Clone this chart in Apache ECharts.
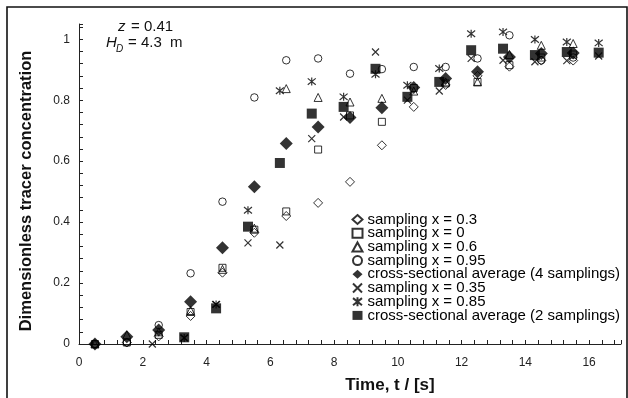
<!DOCTYPE html>
<html><head><meta charset="utf-8">
<script src="https://cdn.jsdelivr.net/npm/echarts@6/dist/echarts.min.js"></script>
<style>html,body{margin:0;padding:0;background:#fff}#c{width:628px;height:398px}</style>
</head><body><div id="c"></div>
<script>
// time points (s)
const T4 = [0.5, 1.5, 2.5, 3.5, 4.5, 5.5, 6.5, 7.5, 8.5, 9.5, 10.5, 11.5, 12.5, 13.5, 14.5, 15.5];
const T2 = [2.3, 3.3, 4.3, 5.3, 6.3, 7.3, 8.3, 9.3, 10.3, 11.3, 12.3, 13.3, 14.3, 15.3, 16.3];
// 4-sampling run
const x030 = [0, 0.005, 0.025, 0.092, 0.234, 0.365, 0.42, 0.463, 0.532, 0.652, 0.778, 0.85, 0.88, 0.91, 0.93, 0.93];
const x000 = [0, 0.005, 0.03, 0.105, 0.25, 0.375, 0.435, 0.638, 0.75, 0.729, 0.84, 0.855, 0.86, 0.915, 0.94, 0.95];
const x060 = [0, 0.03, 0.04, 0.11, 0.245, 0.38, 0.838, 0.809, 0.794, 0.806, 0.83, 0.86, 0.86, 0.95, 0.98, 0.986];
const x095 = [0, 0.005, 0.062, 0.232, 0.467, 0.809, 0.931, 0.937, 0.887, 0.902, 0.909, 0.909, 0.937, 1.013, 0.931, 0.94];
const avg4 = [0, 0.024, 0.046, 0.139, 0.316, 0.516, 0.658, 0.712, 0.743, 0.775, 0.842, 0.871, 0.893, 0.942, 0.953, 0.955];
// 2-sampling run
const x035 = [0, 0.02, 0.13, 0.332, 0.325, 0.674, 0.745, 0.958, 0.80, 0.83, 0.937, 0.931, 0.926, 0.93, 0.945];
const x085 = [null, 0.02, 0.13, 0.439, 0.831, 0.861, 0.811, 0.885, 0.849, 0.904, 1.018, 1.024, 0.999, 0.991, 0.988];
const avg2 = [null, 0.022, 0.117, 0.385, 0.594, 0.756, 0.778, 0.903, 0.811, 0.86, 0.964, 0.969, 0.948, 0.958, 0.956];
// axis tick labels
const xTickLabels = [0, 2, 4, 6, 8, 10, 12, 14, 16];
const yTickLabels = [0, 0.2, 0.4, 0.6, 0.8, 1];

function pairs(T, V) { return T.map((t, i) => V[i] == null ? null : [t, V[i]]).filter(Boolean); }
const FF = '"Liberation Sans", Arial, sans-serif';
const open = { color: 'none', borderColor: '#000', borderWidth: 1 };
const XPATH = 'path://M0,0L10,10M10,0L0,10';
const APATH = 'path://M0,1L10,9M10,1L0,9M5,0L5,10';

const chart = echarts.init(document.getElementById('c'), null, { renderer: 'canvas' });
const near = (v, list) => list.find(l => Math.abs(l - v) < 1e-6);
chart.setOption({
  animation: false,
  backgroundColor: '#fff',
  grid: { left: 79, right: 7, top: 24, bottom: 54 },
  xAxis: {
    type: 'value', min: 0, max: 17, interval: 0.4,
    splitLine: { show: false },
    axisLine: { lineStyle: { color: '#222', width: 1 } },
    axisTick: { inside: true, length: 4, lineStyle: { color: '#222' } },
    axisLabel: {
      margin: 13, fontSize: 12, color: '#222', fontFamily: FF,
      formatter: v => { const n = near(v, xTickLabels); return n === undefined ? '' : String(n); }
    }
  },
  yAxis: {
    type: 'value', min: 0, max: 1.05, interval: 0.04,
    splitLine: { show: false },
    axisLine: { show: true, lineStyle: { color: '#222', width: 1 } },
    axisTick: { show: true, inside: true, length: 4, lineStyle: { color: '#222' } },
    axisLabel: {
      margin: 9, fontSize: 12, color: '#222', fontFamily: FF,
      formatter: v => { const n = near(v, yTickLabels); return n === undefined ? '' : String(n); }
    }
  },
  legend: {
    orient: 'vertical', left: 350, top: 212, padding: 0, itemWidth: 10, itemHeight: 9, itemGap: -1.3,
    textStyle: { fontSize: 15, color: '#000', fontFamily: FF },
    data: ['sampling x = 0.3', 'sampling x = 0', 'sampling x = 0.6', 'sampling x = 0.95',
      'cross-sectional average (4 samplings)', 'sampling x = 0.35', 'sampling x = 0.85',
      'cross-sectional average (2 samplings)']
  },
  graphic: [
    { type: 'rect', shape: { x: 7, y: 7, width: 620, height: 400 }, style: { fill: 'none', stroke: '#111', lineWidth: 1.6 }, silent: true },
    { type: 'text', x: 118, y: 19, style: { text: 'z', font: 'italic 15px ' + FF, fill: '#111' } },
    { type: 'text', x: 131, y: 19, style: { text: '= 0.41', font: '15px ' + FF, fill: '#111' } },
    { type: 'text', x: 106, y: 35, style: { text: 'H', font: 'italic 15px ' + FF, fill: '#111' } },
    { type: 'text', x: 116, y: 44, style: { text: 'D', font: 'italic 10px ' + FF, fill: '#111' } },
    { type: 'text', x: 128, y: 35, style: { text: '= 4.3  m', font: '15px ' + FF, fill: '#111' } },
    { type: 'text', x: 26, y: 191, rotation: Math.PI / 2,
      style: { text: 'Dimensionless tracer concentration', font: 'bold 16.5px ' + FF, fill: '#111', align: 'center', verticalAlign: 'middle' } },
    { type: 'text', x: 390, y: 385,
      style: { text: 'Time, t / [s]', font: 'bold 17px ' + FF, fill: '#111', align: 'center', verticalAlign: 'middle' } }
  ],
  series: [
    { name: 'sampling x = 0.3', type: 'scatter', symbol: 'diamond', symbolSize: 9, itemStyle: open, data: pairs(T4, x030) },
    { name: 'sampling x = 0', type: 'scatter', symbol: 'rect', symbolSize: 7, itemStyle: open, data: pairs(T4, x000) },
    { name: 'sampling x = 0.6', type: 'scatter', symbol: 'triangle', symbolSize: 8, itemStyle: open, data: pairs(T4, x060) },
    { name: 'sampling x = 0.95', type: 'scatter', symbol: 'circle', symbolSize: 7.5, itemStyle: open, data: pairs(T4, x095) },
    { name: 'cross-sectional average (4 samplings)', type: 'scatter', symbol: 'diamond', symbolSize: 13, itemStyle: { color: '#000' }, data: pairs(T4, avg4) },
    { name: 'sampling x = 0.35', type: 'scatter', symbol: XPATH, symbolSize: 7, itemStyle: { color: 'none', borderColor: '#000', borderWidth: 1.2 }, data: pairs(T2, x035) },
    { name: 'sampling x = 0.85', type: 'scatter', symbol: APATH, symbolSize: 8, itemStyle: { color: 'none', borderColor: '#000', borderWidth: 1.2 }, data: pairs(T2, x085) },
    { name: 'cross-sectional average (2 samplings)', type: 'scatter', symbol: 'rect', symbolSize: 10, itemStyle: { color: '#000' }, data: pairs(T2, avg2) }
  ]
});
</script></body></html>
